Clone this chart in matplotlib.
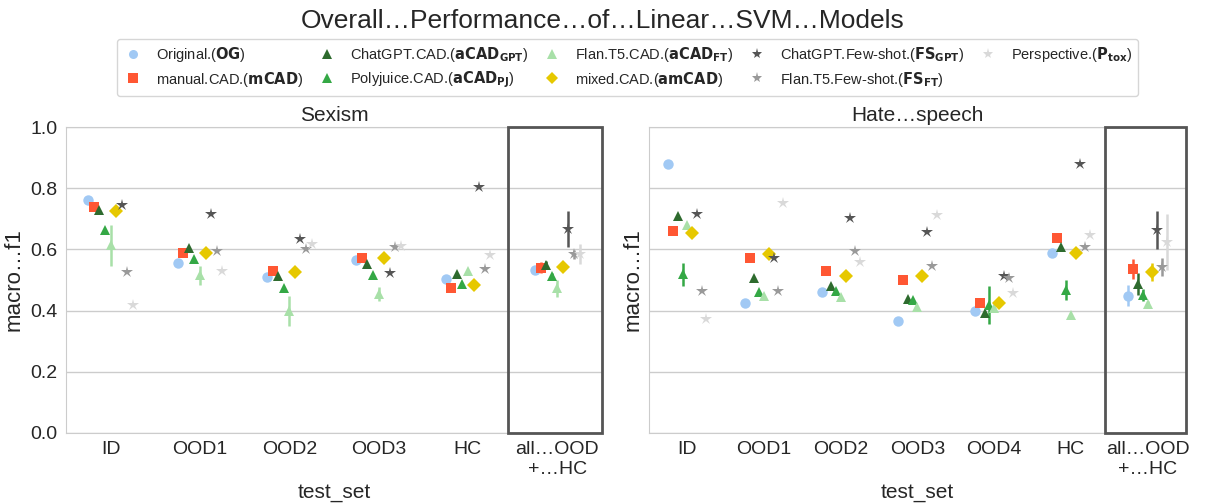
import matplotlib
matplotlib.use('Agg')
import matplotlib.pyplot as plt
import numpy as np
import seaborn as sns
from matplotlib.patches import Rectangle
from matplotlib.lines import Line2D

sns.set_style('whitegrid')
plt.rcParams['font.family'] = ['Liberation Sans', 'DejaVu Sans']

models = ['Original.($\\mathbf{OG}$)', 'manual.CAD.($\\mathbf{mCAD}$)',
          'ChatGPT.CAD.($\\mathbf{aCAD_{GPT}}$)', 'Polyjuice.CAD.($\\mathbf{aCAD_{PJ}}$)',
          'Flan.T5.CAD.($\\mathbf{aCAD_{FT}}$)', 'mixed.CAD.($\\mathbf{amCAD}$)',
          'ChatGPT.Few-shot.($\\mathbf{FS_{GPT}}$)', 'Flan.T5.Few-shot.($\\mathbf{FS_{FT}}$)',
          'Perspective.($\\mathbf{P_{tox}}$)']
colors = ['#a1c9f4', '#ff5733', '#2e6b2e', '#34a845', '#a8e0a8',
          '#e6c800', '#555555', '#999999', '#d9d9d9']
markers = ['o', 's', '^', '^', '^', 'D', '*', '*', '*']

sexism_sets = ['ID', 'OOD1', 'OOD2', 'OOD3', 'HC', 'all…OOD\n+…HC']
hate_sets = ['ID', 'OOD1', 'OOD2', 'OOD3', 'OOD4', 'HC', 'all…OOD\n+…HC']

# macro f1, one row per model
sexism_f1 = [
    [0.761, 0.557, 0.511, 0.565, 0.502, 0.533],
    [0.740, 0.587, 0.529, 0.571, 0.475, 0.540],
    [0.729, 0.603, 0.514, 0.552, 0.520, 0.549],
    [0.663, 0.567, 0.475, 0.516, 0.487, 0.513],
    [0.614, 0.516, 0.400, 0.454, 0.529, 0.473],
    [0.727, 0.587, 0.527, 0.571, 0.484, 0.543],
    [0.745, 0.715, 0.633, 0.522, 0.805, 0.667],
    [0.527, 0.595, 0.602, 0.609, 0.535, 0.584],
    [0.418, 0.529, 0.617, 0.611, 0.582, 0.584],
]
sexism_err = [
    [0, 0, 0, 0, 0, 0.010],
    [0, 0, 0, 0, 0, 0.018],
    [0, 0, 0, 0, 0, 0.012],
    [0, 0, 0, 0, 0, 0.010],
    [0.067, 0.031, 0.049, 0.022, 0, 0.027],
    [0, 0, 0, 0, 0, 0.010],
    [0, 0, 0, 0, 0, 0.058],
    [0, 0, 0, 0, 0, 0.015],
    [0, 0, 0, 0, 0, 0.033],
]
hate_f1 = [
    [0.879, 0.426, 0.460, 0.367, 0.399, 0.589, 0.449],
    [0.661, 0.571, 0.531, 0.500, 0.426, 0.636, 0.535],
    [0.709, 0.508, 0.480, 0.437, 0.393, 0.607, 0.486],
    [0.518, 0.460, 0.465, 0.435, 0.418, 0.467, 0.451],
    [0.680, 0.448, 0.443, 0.411, 0.410, 0.386, 0.422],
    [0.655, 0.585, 0.514, 0.513, 0.424, 0.587, 0.525],
    [0.716, 0.571, 0.701, 0.656, 0.513, 0.878, 0.663],
    [0.465, 0.464, 0.595, 0.547, 0.505, 0.609, 0.543],
    [0.373, 0.753, 0.560, 0.712, 0.459, 0.647, 0.625],
]
hate_err = [
    [0, 0, 0, 0, 0, 0, 0.034],
    [0, 0, 0, 0, 0, 0, 0.033],
    [0, 0, 0, 0, 0, 0, 0.036],
    [0.036, 0, 0, 0, 0.061, 0.033, 0.020],
    [0, 0, 0, 0, 0, 0, 0.010],
    [0, 0, 0, 0, 0, 0, 0.029],
    [0, 0, 0, 0, 0, 0, 0.063],
    [0, 0, 0, 0, 0, 0, 0.029],
    [0, 0, 0, 0, 0, 0, 0.091],
]


def draw_panel(ax, title, sets, f1, err):
    n = len(sets)
    x = np.arange(n)
    offsets = np.linspace(-0.25, 0.25, len(models))
    for i in range(len(models)):
        xs = x + offsets[i]
        e = np.array(err[i])
        ax.vlines(xs[e > 0], (np.array(f1[i]) - e)[e > 0], (np.array(f1[i]) + e)[e > 0],
                  color=colors[i], lw=1.8, zorder=2)
        ms = 9 if markers[i] == '*' else 7.5
        if markers[i] == 'D':
            ms = 7
        ax.plot(xs, f1[i], ls='none', marker=markers[i], color=colors[i],
                markersize=ms, markeredgewidth=0, zorder=3)
    ax.set_xlim(-0.5, n - 0.5)
    ax.set_ylim(0, 1.0)
    ax.set_xticks(x)
    ax.set_xticklabels(sets, fontsize=14, color='#262626')
    ax.grid(axis='x', visible=False)
    ax.grid(axis='y', color='#cccccc', lw=1)
    for s in ax.spines.values():
        s.set_color('#cccccc')
    ax.set_title(title, fontsize=15, color='#262626', pad=4)
    ax.set_xlabel('test_set', fontsize=15, color='#262626')
    ax.set_ylabel('macro…f1', fontsize=16, color='#262626')
    ax.tick_params(axis='both', length=0, pad=6)
    ax.add_patch(Rectangle((n - 1.55, 0), 1.05, 1.0, fill=False,
                           edgecolor='#555555', lw=2, zorder=4, clip_on=False))


fig = plt.figure(figsize=(12.06, 5.03), dpi=100)
ax1 = fig.add_axes([0.0547, 0.1392, 0.4444, 0.6083])
ax2 = fig.add_axes([0.5381, 0.1392, 0.4453, 0.6083], sharey=ax1)

draw_panel(ax1, 'Sexism', sexism_sets, sexism_f1, sexism_err)
draw_panel(ax2, 'Hate…speech', hate_sets, hate_f1, hate_err)
ax1.set_yticks([0, 0.2, 0.4, 0.6, 0.8, 1.0])
ax1.set_yticklabels(['0.0', '0.2', '0.4', '0.6', '0.8', '1.0'], fontsize=14, color='#262626')
ax2.tick_params(axis='y', labelleft=False)
ax2.yaxis.labelpad = 4

handles = []
for i in range(len(models)):
    ms = 8 if markers[i] == '*' else 6.5
    handles.append(Line2D([], [], ls='none', marker=markers[i], color=colors[i],
                          markersize=ms, markeredgewidth=0, label=models[i]))
fig.legend(handles=handles, ncol=5, loc='center', bbox_to_anchor=(0.52, 0.866),
           fontsize=10.5, frameon=True, edgecolor='#cccccc', handlelength=1.5,
           handletextpad=0.8, columnspacing=0.9, borderpad=0.4, labelspacing=0.4)

fig.suptitle('Overall…Performance…of…Linear…SVM…Models', fontsize=19, y=0.982,
             color='#262626')

fig.savefig('out.png', dpi=100)
